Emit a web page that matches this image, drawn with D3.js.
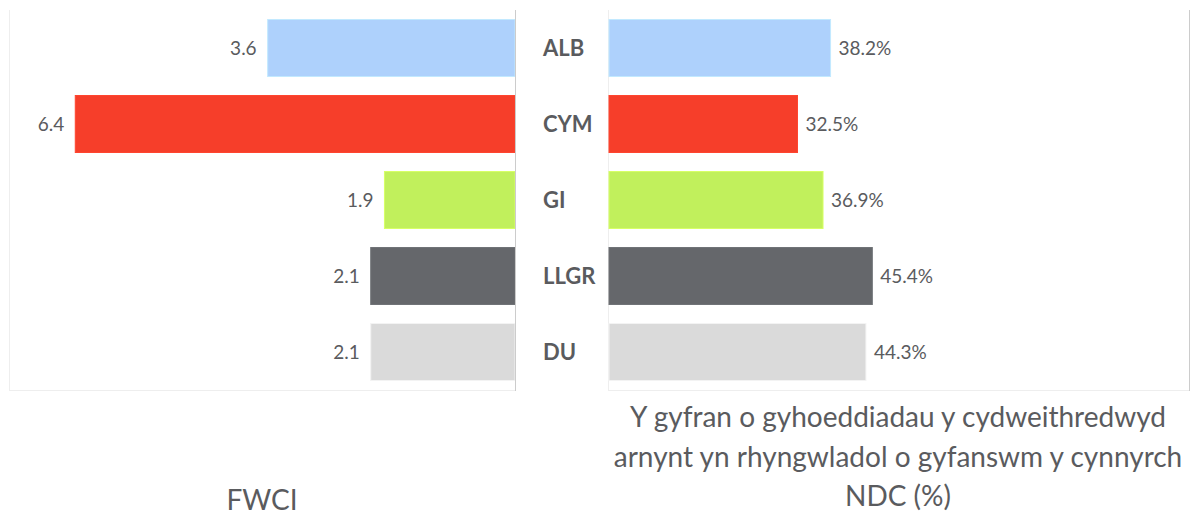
<!DOCTYPE html>
<html>
<head>
<meta charset="utf-8">
<script src="https://cdn.jsdelivr.net/npm/d3@7"></script>
<style>
  body { margin: 0; background: #fff; }
  text { font-family: Lato, "Open Sans", "DejaVu Sans", sans-serif; fill: #5a5b5e; }
</style>
</head>
<body>
<svg id="chart" width="1195" height="518"></svg>
<script>
const categories = ["ALB", "CYM", "GI", "LLGR", "DU"];
const fwci = [3.6, 6.4, 1.9, 2.1, 2.1];
const share = [38.2, 32.5, 36.9, 45.4, 44.3];
const colors = ["#aed1fc", "#f63e2a", "#c1f05c", "#65676b", "#dadada"];
const leftTitle = ["FWCI"];
const rightTitle = ["Y gyfran o gyhoeddiadau y cydweithredwyd", "arnynt yn rhyngwladol o gyfanswm y cynnyrch", "NDC (%)"];

const svg = d3.select("#chart");
const plotTop = 10, plotBottom = 390;

const y = d3.scaleBand()
    .domain(categories)
    .range([plotTop, plotBottom])
    .paddingInner(0.25)
    .paddingOuter(0.125);

const xLeft = d3.scaleLinear().domain([0, 7.35]).range([515, 10]);
const xRight = d3.scaleLinear().domain([0, 100]).range([609, 1189]);

// panel frames
const frame = svg.append("g");
frame.append("line").attr("x1", 9.5).attr("x2", 9.5).attr("y1", plotTop).attr("y2", plotBottom).attr("stroke", "#eeeeee");
frame.append("line").attr("x1", 9).attr("x2", 516).attr("y1", plotBottom + 0.5).attr("y2", plotBottom + 0.5).attr("stroke", "#eeeeee");
frame.append("line").attr("x1", 608.5).attr("x2", 608.5).attr("y1", plotTop).attr("y2", plotBottom).attr("stroke", "#eeeeee");
frame.append("line").attr("x1", 608).attr("x2", 1190).attr("y1", plotBottom + 0.5).attr("y2", plotBottom + 0.5).attr("stroke", "#eeeeee");
frame.append("line").attr("x1", 1189.5).attr("x2", 1189.5).attr("y1", plotTop).attr("y2", plotBottom + 1).attr("stroke", "#cccccc");

const rows = categories.map((c, i) => ({cat: c, fwci: fwci[i], share: share[i], color: colors[i]}));

// left bars
svg.append("g").selectAll("rect")
    .data(rows)
    .join("rect")
    .attr("x", d => xLeft(d.fwci))
    .attr("y", d => y(d.cat))
    .attr("width", d => xLeft(0) - xLeft(d.fwci))
    .attr("height", y.bandwidth())
    .attr("fill", d => d.color)
    .attr("stroke", d => d3.color(d.color).brighter(0.3))
    .attr("stroke-width", 1);

svg.append("g").selectAll("text")
    .data(rows)
    .join("text")
    .attr("x", d => xLeft(d.fwci) - 11)
    .attr("y", d => y(d.cat) + y.bandwidth() / 2)
    .attr("dy", "0.35em")
    .attr("text-anchor", "end")
    .style("font-size", "19px")
    .text(d => d.fwci.toFixed(1));

// center axis line
svg.append("line")
    .attr("x1", 515.5).attr("x2", 515.5)
    .attr("y1", plotTop).attr("y2", plotBottom + 1)
    .attr("stroke", "#cccccc");

// category labels
svg.append("g").selectAll("text")
    .data(rows)
    .join("text")
    .attr("x", 543)
    .attr("y", d => y(d.cat) + y.bandwidth() / 2)
    .attr("dy", "0.36em")
    .style("font-size", "22px")
    .style("font-weight", "bold")
    .style("fill", "#5a5b5e")
    .text(d => d.cat);

// right bars
svg.append("g").selectAll("rect")
    .data(rows)
    .join("rect")
    .attr("x", xRight(0))
    .attr("y", d => y(d.cat))
    .attr("width", d => xRight(d.share) - xRight(0))
    .attr("height", y.bandwidth())
    .attr("fill", d => d.color)
    .attr("stroke", d => d3.color(d.color).brighter(0.3))
    .attr("stroke-width", 1);

svg.append("g").selectAll("text")
    .data(rows)
    .join("text")
    .attr("x", d => xRight(d.share) + 8)
    .attr("y", d => y(d.cat) + y.bandwidth() / 2)
    .attr("dy", "0.35em")
    .style("font-size", "19px")
    .text(d => d.share.toFixed(1) + "%");

// titles
svg.append("text")
    .attr("x", 262).attr("y", 510)
    .attr("text-anchor", "middle")
    .style("font-size", "28px")
    .text(leftTitle[0]);

svg.append("g").selectAll("text")
    .data(rightTitle)
    .join("text")
    .attr("x", 898)
    .attr("y", (d, i) => 427 + i * 39.5)
    .attr("text-anchor", "middle")
    .style("font-size", "28px")
    .text(d => d);
</script>
</body>
</html>
